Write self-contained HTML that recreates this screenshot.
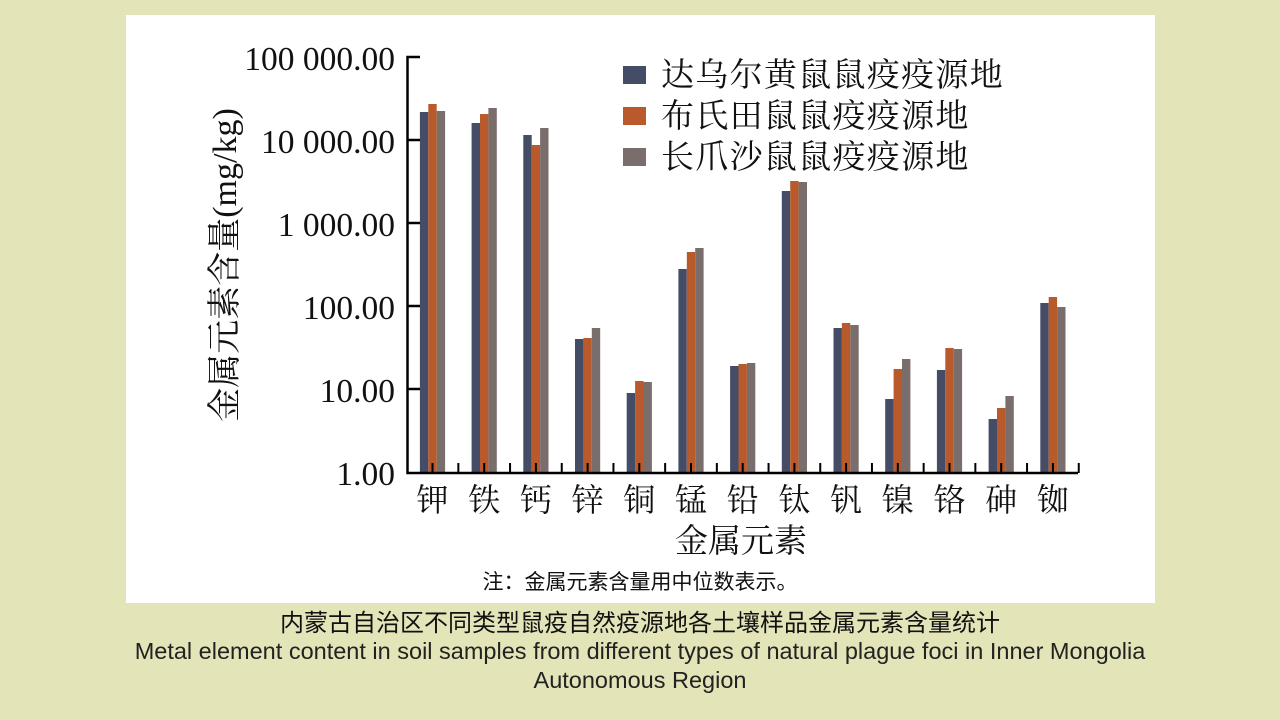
<!DOCTYPE html>
<html><head><meta charset="utf-8"><style>
html,body{margin:0;padding:0;background:#e3e4b8;}
body{width:1280px;height:720px;position:relative;overflow:hidden;}
</style></head><body>
<svg width="1280" height="720" xmlns="http://www.w3.org/2000/svg" style="position:absolute;left:0;top:0">
<rect x="0" y="0" width="1280" height="720" fill="#e3e4b8"/>
<rect x="126" y="15" width="1029" height="588" fill="#ffffff"/>
<g id="bars"></g>
<g stroke="#000" stroke-width="2.5" fill="none">
<path d="M420 57 H407.5 V473 H1078"/>
<path d="M407.5 140 H420 M407.5 223 H420 M407.5 306 H420 M407.5 389 H420"/>
</g>
<g id="xt" stroke="#000" stroke-width="2"></g>
<g font-family="'Liberation Serif','Noto Serif CJK SC',serif" font-size="33.5" fill="#111" text-anchor="end">
<text x="395" y="70">100 000.00</text>
<text x="395" y="153">10 000.00</text>
<text x="395" y="236">1 000.00</text>
<text x="395" y="319">100.00</text>
<text x="395" y="402">10.00</text>
<text x="395" y="485">1.00</text>
</g>
<text transform="translate(236,265) rotate(-90)" text-anchor="middle" font-family="'Liberation Serif','Noto Serif CJK SC',serif" font-size="34" fill="#111">金属元素含量(mg/kg)</text>
<g id="xl" font-family="'Noto Serif CJK SC',serif" font-size="32" fill="#111" text-anchor="middle"></g>
<text x="741" y="552" text-anchor="middle" font-family="'Noto Serif CJK SC',serif" font-size="33" fill="#111">金属元素</text>
<g font-family="'Noto Serif CJK SC',serif" font-size="33" fill="#111" letter-spacing="1.3">
<rect x="623" y="66" width="23" height="18" fill="#444c66"/>
<text x="661" y="86">达乌尔黄鼠鼠疫疫源地</text>
<rect x="623" y="107" width="23" height="18" fill="#b85a2c"/>
<text x="661" y="127">布氏田鼠鼠疫疫源地</text>
<rect x="623" y="148" width="23" height="18" fill="#7a6e6c"/>
<text x="661" y="168">长爪沙鼠鼠疫疫源地</text>
</g>
<text x="640" y="589" text-anchor="middle" font-family="'Noto Sans CJK SC',sans-serif" font-size="21" fill="#111">注：金属元素含量用中位数表示。</text>
<text x="640" y="631" text-anchor="middle" font-family="'Noto Sans CJK SC',sans-serif" font-size="24" fill="#111">内蒙古自治区不同类型鼠疫自然疫源地各土壤样品金属元素含量统计</text>
<text x="640" y="659" text-anchor="middle" font-family="'Liberation Sans',sans-serif" font-size="23.5" fill="#222">Metal element content in soil samples from different types of natural plague foci in Inner Mongolia</text>
<text x="640" y="688" text-anchor="middle" font-family="'Liberation Sans',sans-serif" font-size="23.5" fill="#222">Autonomous Region</text>
</svg>
<script>
var tops=[[112,104,111],[123,114,108],[135,145,128],[339,338,328],[393,381,382],[269,252,248],[366,364,363],[191,181,182],[328,323,325],[399,369,359],[370,348,349],[419,408,396],[303,297,307]];
var labels="钾铁钙锌铜锰铅钛钒镍铬砷铷";
var cols=["#444c66","#b85a2c","#7a6e6c"];
var ns="http://www.w3.org/2000/svg",b=document.getElementById('bars'),xt=document.getElementById('xt'),xl=document.getElementById('xl');
for(var i=0;i<13;i++){var c=432.5+i*51.7;
for(var j=0;j<3;j++){var r=document.createElementNS(ns,'rect');r.setAttribute('x',c-12.6+j*8.4);r.setAttribute('y',tops[i][j]);r.setAttribute('width',8.4);r.setAttribute('height',473-tops[i][j]);r.setAttribute('fill',cols[j]);b.appendChild(r);}
[c,c+25.85].forEach(function(tx){var l=document.createElementNS(ns,'line');l.setAttribute('x1',tx);l.setAttribute('x2',tx);l.setAttribute('y1',463);l.setAttribute('y2',473);xt.appendChild(l);});
var t=document.createElementNS(ns,'text');t.setAttribute('x',c);t.setAttribute('y',511);t.textContent=labels[i];xl.appendChild(t);}
</script>
</body></html>
